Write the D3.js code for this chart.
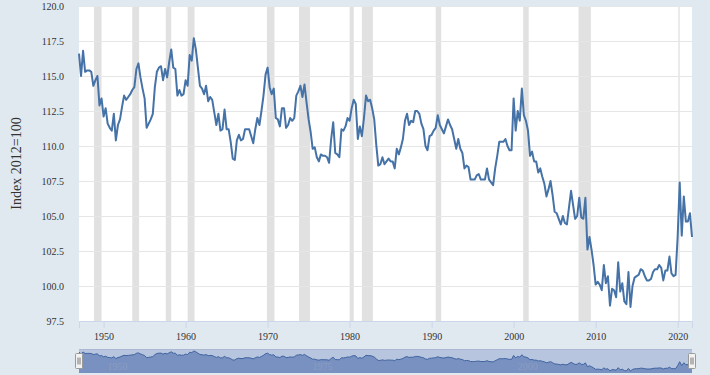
<!DOCTYPE html>
<html><head><meta charset="utf-8">
<script src="https://cdn.jsdelivr.net/npm/d3@7/dist/d3.min.js"></script>
<style>body{margin:0;background:#e1e9f0;}svg{display:block}</style>
</head><body>
<svg id="c" width="710" height="375"></svg>
<script>
// Quarterly index values, 1947Q1 .. 2021Q4
const startYear = 1947;
const values = [
116.6,115.0,116.8,115.3, 115.4,115.4,115.3,114.3, 114.7,115.0,112.9,113.4, 112.1,112.7,111.6,111.3,
111.1,112.3,110.4,111.5, 111.9,112.8,113.6,113.3, 113.5,113.7,114.0,114.2, 115.5,115.9,114.9,114.1,
113.4,111.3,111.6,111.9, 112.3,114.2,115.3,115.6, 115.7,114.7,115.5,114.9, 116.0,116.9,115.6,115.5,
113.6,114.0,113.6,113.7, 114.7,114.3,116.5,116.1, 117.7,116.9,115.6,114.3, 114.1,113.7,114.3,113.2,
113.5,113.3,112.4,111.5, 112.3,111.1,111.2,112.6, 111.2,111.2,110.3,109.1, 109.0,110.4,110.8,110.4,
110.5,111.2,111.2,111.2, 110.7,110.2,111.2,112.0, 111.5,112.5,113.6,115.1, 115.6,114.2,113.7,114.1,
112.0,111.9,111.4,112.7, 112.7,111.3,111.5,112.0, 111.8,112.0,113.6,113.9, 114.3,113.5,114.4,113.1,
111.9,111.0,109.8,109.9, 109.2,108.9,109.4,109.3, 109.3,109.2,108.8,110.5, 111.7,109.5,109.4,109.2,
111.2,111.1,111.4,112.0, 111.8,112.7,113.3,113.0, 110.5,111.4,110.7,112.0, 113.6,113.2,113.3,112.7,
111.9,110.1,108.6,108.7, 109.2,108.7,108.9,109.1, 108.9,108.9,108.4,109.8, 109.4,109.9,110.5,111.8,
112.3,111.5,111.8,111.7, 112.5,112.5,112.3,111.6, 111.2,110.0,109.7,110.7, 110.8,111.1,111.3,112.2,
111.5,111.2,110.9,111.4, 111.9,111.5,111.2,110.5, 109.8,110.5,109.8,109.5, 108.4,108.6,108.5,107.6,
107.6,107.6,107.9,108.0, 107.6,107.6,107.6,108.4, 107.6,107.4,107.2,108.4, 109.3,110.3,110.3,110.3,
110.5,110.0,109.7,109.7, 113.4,111.1,112.5,111.8, 114.1,112.2,111.8,111.1, 109.3,109.6,108.9,108.9,
108.1,108.4,107.8,107.3, 106.4,106.9,107.5,106.5, 105.3,105.2,104.8,104.4, 105.0,104.5,104.4,105.6,
106.8,105.8,104.8,105.0, 106.3,104.9,104.8,106.3, 102.6,103.5,102.6,101.5, 100.1,100.3,100.1,99.7,
101.5,100.2,100.7,98.6, 99.8,99.7,99.2,101.7, 99.6,100.2,98.9,98.7, 101.0,98.5,100.0,100.6,
100.7,100.8,101.2,101.1, 100.7,100.4,100.4,100.5, 101.0,101.2,101.2,101.5, 101.3,100.4,101.1,101.1,
102.1,100.9,100.7,100.8, 103.5,107.4,103.6,106.4, 104.6,104.6,105.2,103.5
];
const yTicks = [97.5,100,102.5,105,107.5,110,112.5,115,117.5,120];
const xTickYears = [1950,1960,1970,1980,1990,2000,2010,2020];
const navLabelYears = [1950,1975,2000];
const recessionStarts = ["1948-11-01","1953-07-01","1957-08-01","1960-04-01","1969-12-01","1973-11-01","1980-01-01","1981-07-01","1990-07-01","2001-03-01","2007-12-01","2020-02-01"];
const recessionEnds   = ["1949-10-01","1954-05-01","1958-04-01","1961-02-01","1970-11-01","1975-03-01","1980-07-01","1982-11-01","1991-03-01","2001-11-01","2009-06-01","2020-04-01"];
const yTitle = "Index 2012=100";

const W = 710, H = 375;
const L = 79, R = 692, T = 6, B = 321;
const navT = 349, navB = 373;
const serif = "'Liberation Serif','Times New Roman',serif";

const svg = d3.select("#c");
const parse = d3.timeParse("%Y-%m-%d");
const data = values.map((v, i) => ({date: new Date(startYear + Math.floor(i / 4), (i % 4) * 3, 1), v}));

const x = d3.scaleTime().domain(d3.extent(data, d => d.date)).range([L, R]);
const y = d3.scaleLinear().domain([97.5, 120]).range([B, T]);

svg.append("rect").attr("width", W).attr("height", H).attr("fill", "#e1e9f0");
svg.append("rect").attr("x", L).attr("y", T).attr("width", R - L).attr("height", B - T).attr("fill", "#ffffff");

// recession shading
const rec = recessionStarts.map((s, i) => ({s: parse(s), e: parse(recessionEnds[i])}));
svg.append("g").selectAll("rect").data(rec).join("rect")
  .attr("x", d => x(d.s)).attr("y", T)
  .attr("width", d => Math.max(1, x(d.e) - x(d.s))).attr("height", B - T)
  .attr("fill", "#e1e1e1");

// gridlines
const grid = svg.append("g").attr("transform", `translate(${L},0)`)
  .call(d3.axisLeft(y).tickValues(yTicks).tickSize(-(R - L)).tickFormat(""));
grid.select(".domain").remove();
grid.selectAll("line").attr("stroke", "#e6e6e6").attr("stroke-width", 1);

// y labels
const ya = svg.append("g").attr("transform", `translate(${L},0)`)
  .call(d3.axisLeft(y).tickValues(yTicks).tickSize(0).tickPadding(15).tickFormat(d3.format(".1f")));
ya.select(".domain").remove();
ya.selectAll("text").attr("font-family", serif).attr("font-size", 10).attr("fill", "#333");

// x axis
const xa = svg.append("g").attr("transform", `translate(0,${B})`)
  .call(d3.axisBottom(x).tickValues(xTickYears.map(yr => new Date(yr, 0, 1)))
    .tickFormat(d3.timeFormat("%Y")).tickSize(7).tickPadding(5));
xa.select(".domain").attr("stroke", "#ccd6eb");
xa.selectAll("line").attr("stroke", "#ccd6eb");
xa.selectAll("text").attr("font-family", serif).attr("font-size", 10).attr("fill", "#333");

// y title
svg.append("text").attr("transform", `translate(21,${(T + B) / 2}) rotate(-90)`)
  .attr("text-anchor", "middle").attr("font-family", serif).attr("font-size", 14)
  .attr("fill", "#333").text(yTitle);

// main line
svg.append("path").datum(data)
  .attr("d", d3.line().x(d => x(d.date)).y(d => y(d.v)))
  .attr("fill", "none").attr("stroke", "#4572a7").attr("stroke-width", 2)
  .attr("stroke-linejoin", "round");

// navigator
const ny = d3.scaleLinear().domain(d3.extent(values)).range([navB - 2, navT + 2]);
svg.append("rect").attr("x", L).attr("y", navT).attr("width", R - L).attr("height", navB - navT)
  .attr("fill", "#b7c5df");
svg.append("path").datum(data)
  .attr("d", d3.area().x(d => x(d.date)).y0(navB).y1(d => ny(d.v)))
  .attr("fill", "#7891c0");
svg.append("path").datum(data)
  .attr("d", d3.line().x(d => x(d.date)).y(d => ny(d.v)))
  .attr("fill", "none").attr("stroke", "#3f62a0").attr("stroke-width", 1);
svg.append("g").selectAll("text").data(navLabelYears).join("text")
  .attr("x", d => x(new Date(d, 0, 1)) + 4).attr("y", 370)
  .attr("font-family", serif).attr("font-size", 10).attr("fill", "#8d9dc0")
  .text(d => d);
svg.append("line").attr("x1", L).attr("x2", R).attr("y1", navT + 0.5).attr("y2", navT + 0.5)
  .attr("stroke", "#aab8d4");

// handles
[L, R].forEach(hx => {
  const g = svg.append("g").attr("transform", `translate(${Math.round(hx) - 3.5},353.5)`);
  g.append("rect").attr("width", 7).attr("height", 15).attr("fill", "#f2f2f2").attr("stroke", "#999").attr("rx", 1);
  g.append("line").attr("x1", 2.5).attr("x2", 2.5).attr("y1", 4).attr("y2", 11).attr("stroke", "#777");
  g.append("line").attr("x1", 4.5).attr("x2", 4.5).attr("y1", 4).attr("y2", 11).attr("stroke", "#777");
});
</script>
</body></html>
